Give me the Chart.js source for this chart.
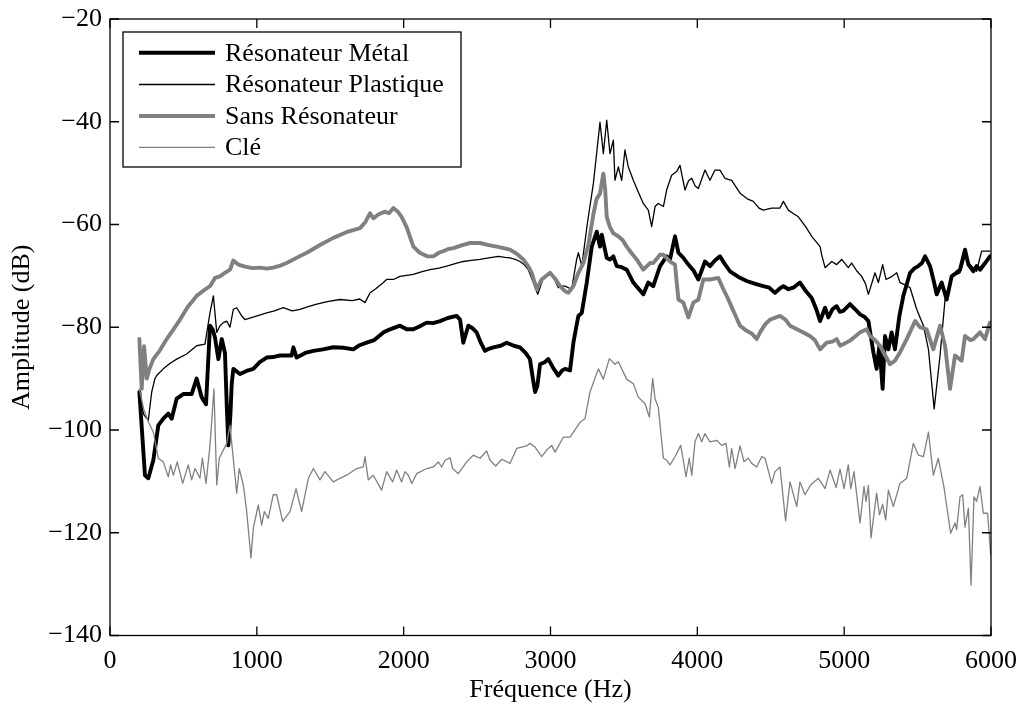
<!DOCTYPE html>
<html>
<head>
<meta charset="utf-8">
<script src="https://cdn.jsdelivr.net/npm/chart.js@4/dist/chart.umd.min.js"></script>
<style>
html,body{margin:0;padding:0;background:#fff;}
canvas{display:block;}
</style>
</head>
<body>
<canvas id="c" width="1024" height="706"></canvas>
<script>
// ---- Data ----
const seriesLabels = ['Résonateur Métal', 'Résonateur Plastique', 'Sans Résonateur', 'Clé'];

const freqMetal = [200,238,261,295,329,363,397,420,454,499,556,590,624,654,681,700,715,738,761,783,795,806,820,829,840,885,930,976,1020,1067,1110,1158,1237,1249,1271,1330,1385,1450,1521,1590,1657,1700,1748,1800,1862,1907,1975,2020,2066,2110,2157,2200,2248,2300,2361,2384,2406,2440,2470,2497,2525,2554,2580,2611,2660,2702,2750,2792,2830,2860,2880,2895,2910,2929,2960,2985,3020,3053,3080,3099,3133,3156,3175,3190,3213,3247,3281,3315,3337,3349,3383,3405,3428,3451,3485,3519,3564,3600,3632,3666,3700,3746,3791,3814,3848,3871,3905,3939,3975,4007,4052,4086,4120,4154,4190,4222,4280,4336,4390,4449,4490,4529,4560,4586,4620,4654,4699,4740,4779,4810,4836,4870,4892,4920,4949,4970,4994,5040,5075,5108,5140,5165,5199,5221,5240,5262,5278,5301,5323,5346,5375,5403,5449,5480,5505,5530,5551,5585,5610,5630,5664,5698,5732,5760,5789,5823,5846,5880,5902,5925,5960,5993];
const valMetal = [-92.6,-108.8,-109.4,-105.9,-99.1,-97.8,-96.8,-97.8,-93.9,-93,-93,-90,-93.6,-95,-79.7,-80.5,-82,-86.2,-82.3,-85,-95,-103,-97,-91,-88.1,-89.1,-88.5,-88.1,-86.8,-85.9,-85.8,-85.5,-85.5,-83.9,-85.9,-85,-84.6,-84.3,-83.9,-84,-84.3,-83.5,-83,-82.5,-81,-80.4,-79.7,-80.4,-80.4,-79.8,-79.1,-79.2,-78.8,-78.2,-77.8,-78.5,-83,-79.7,-80.2,-81,-83,-84.6,-84.2,-83.9,-83.6,-83,-83.6,-83.9,-85,-86.2,-90,-92.6,-91.5,-87.2,-86.8,-86.2,-88,-89.4,-88.4,-88.1,-88.4,-83,-80,-77.8,-77.2,-71.3,-64.3,-61.4,-64.3,-62,-66.5,-66.8,-66.2,-68.1,-68.3,-68.8,-71.3,-72.5,-73.6,-71.3,-72,-68.1,-66.2,-66.8,-62.3,-65.5,-66.5,-67.8,-69,-70.7,-67.2,-68.1,-67,-66.2,-67.8,-69.1,-70.2,-71,-71.5,-72,-72.3,-73.3,-72.5,-72,-72.6,-72.3,-71.3,-73,-74.3,-76.5,-78.8,-76.2,-78.1,-76.5,-75.9,-77,-76.8,-75.5,-76.5,-77.5,-78,-78.8,-84.9,-88.1,-83.6,-92,-81.7,-84.3,-81,-84.3,-78,-73.9,-69.4,-68.5,-68.1,-67.5,-66.2,-68.1,-71,-73.6,-71.3,-74.6,-70.1,-69.5,-68.8,-64.9,-67.8,-69.1,-68.1,-68.8,-67.5,-66.2];

const freqPlast = [200,230,261,284,306,318,363,410,454,522,590,647,665,681,704,727,749,772,795,817,840,863,897,919,980,1067,1120,1180,1240,1294,1350,1408,1480,1566,1650,1700,1737,1771,1810,1862,1884,1930,1975,2066,2120,2179,2240,2293,2350,2406,2460,2520,2580,2645,2690,2724,2760,2792,2820,2849,2883,2913,2951,2997,3025,3053,3080,3099,3144,3178,3190,3213,3250,3292,3337,3360,3383,3405,3428,3439,3462,3485,3507,3530,3564,3600,3632,3666,3689,3712,3734,3769,3791,3825,3859,3882,3916,3940,3962,3985,4007,4052,4086,4120,4154,4188,4234,4291,4340,4381,4420,4449,4506,4563,4586,4620,4650,4688,4740,4779,4836,4847,4870,4915,4949,4983,5028,5051,5085,5119,5145,5165,5210,5233,5262,5285,5320,5358,5380,5420,5449,5494,5540,5574,5613,5653,5687,5732,5789,5823,5857,5902,5936,5993];
const valPlast = [-93,-97,-98.1,-92.6,-90,-89.4,-88.1,-87,-86.2,-85.2,-83.6,-83.3,-80,-77.2,-73.9,-81,-79.7,-79.1,-78.8,-80,-76.5,-76.2,-77.8,-78.5,-78,-77.2,-76.8,-76.2,-76.8,-76.5,-76,-75.5,-75,-74.6,-74.8,-74.5,-75.2,-73.3,-72.5,-71.3,-70.7,-70.7,-70.1,-69.7,-69.2,-68.8,-68.5,-68.1,-67.6,-67.2,-67,-66.8,-66.5,-66.2,-66.4,-66.5,-66.8,-67.2,-67.8,-68.8,-71.3,-73.6,-70.4,-69.4,-70.5,-72.3,-72,-72,-72.6,-66.8,-65.5,-68.1,-60,-52,-40.1,-46.2,-39.7,-46.2,-43.6,-51.4,-48.8,-51.4,-45.5,-48.8,-51.4,-53.8,-55.9,-57.2,-60.4,-56.5,-55.9,-56.5,-53.3,-50.4,-49.7,-48.5,-53.3,-51.5,-51,-52.5,-53,-49.4,-51.4,-49.4,-49.4,-51,-51.4,-53.9,-55,-55.5,-56.8,-57.2,-56.8,-56.8,-55.5,-57.2,-57.8,-58.5,-60.5,-62.3,-64.3,-65.9,-68.4,-67.2,-67.8,-66.8,-68.4,-67.5,-69,-70.1,-71.5,-73.6,-69.4,-71.3,-67.8,-70.7,-70.2,-69.4,-71.3,-71.8,-72.3,-76.5,-79.7,-84.3,-95.9,-85.5,-74.6,-70.1,-69.4,-66.2,-67.8,-69.1,-65.2,-65.2];

const freqSans = [200,216,232,250,265,295,340,386,430,477,530,590,640,681,715,749,783,817,840,874,920,970,1022,1070,1112,1160,1203,1270,1340,1430,1521,1610,1703,1740,1771,1793,1830,1873,1900,1930,1960,1986,2020,2066,2110,2160,2202,2240,2270,2300,2338,2400,2452,2520,2580,2634,2680,2724,2770,2815,2850,2872,2906,2940,2997,3030,3065,3100,3122,3156,3190,3224,3258,3292,3314,3337,3360,3372,3383,3405,3428,3462,3490,3519,3550,3587,3610,3632,3678,3700,3746,3769,3814,3848,3871,3905,3939,3973,4007,4041,4086,4143,4177,4210,4245,4291,4336,4370,4404,4427,4460,4495,4563,4600,4631,4699,4767,4800,4836,4881,4920,4949,4972,5000,5040,5075,5108,5154,5176,5210,5244,5280,5312,5346,5380,5426,5483,5517,5562,5607,5653,5687,5721,5755,5800,5823,5860,5880,5925,5959,5993];
const valSans = [-82.3,-92,-83.7,-90,-88.4,-86.2,-84.5,-82.3,-80.5,-78.5,-76,-73.9,-72.8,-72,-70.4,-70.1,-69.4,-68.8,-67,-67.8,-68.2,-68.5,-68.4,-68.6,-68.4,-68,-67.5,-66.5,-65.5,-64,-62.6,-61.5,-60.7,-59.5,-57.8,-58.8,-58,-57.5,-57.8,-56.8,-57.5,-58.5,-60.5,-64.3,-65.5,-66.2,-66.2,-65.5,-65.2,-64.8,-64.6,-64,-63.6,-63.6,-64,-64.3,-64.6,-64.9,-65.7,-66.8,-68.2,-69.4,-72.6,-70.7,-69.4,-70.5,-72,-73,-73.3,-72,-69.4,-67.5,-64,-58,-55,-54,-50.1,-53,-58.5,-60.5,-61.7,-62.3,-63,-64.3,-65.5,-66.8,-67.8,-68.8,-67.5,-67.5,-65.9,-65.9,-67.2,-67.8,-74.6,-75.2,-78.1,-75.2,-74.6,-70.7,-70.7,-70.4,-72.6,-74.5,-76.8,-79.7,-80.7,-81.2,-82.3,-81,-79.5,-78.5,-77.8,-78.5,-79.7,-80.7,-81.7,-82.5,-84.3,-83,-82.8,-82.3,-83.6,-83.2,-82.6,-81.8,-81,-80.4,-81.7,-82.5,-83.6,-85.5,-87.2,-86.5,-84.9,-82.3,-78.8,-80,-80.4,-84.3,-79.7,-83.6,-92,-85.5,-86.5,-81.7,-82.5,-82.3,-81,-82.3,-79.1];

const freqCle = [200,230,261,295,329,363,397,413,431,458,495,533,556,579,613,629,654,681,708,727,744,795,817,863,880,908,931,960,976,1010,1033,1051,1078,1112,1135,1176,1226,1267,1305,1351,1385,1430,1464,1521,1566,1612,1680,1725,1737,1759,1793,1850,1884,1925,1952,1986,2009,2032,2055,2089,2157,2202,2236,2259,2282,2316,2334,2372,2429,2474,2520,2565,2588,2627,2668,2724,2770,2838,2860,2894,2940,2974,3008,3031,3087,3133,3201,3235,3269,3326,3360,3401,3439,3462,3519,3564,3598,3644,3673,3696,3712,3734,3769,3791,3814,3848,3887,3923,3945,3962,3984,4007,4030,4052,4086,4132,4166,4195,4218,4234,4257,4291,4318,4347,4370,4404,4438,4461,4506,4529,4563,4601,4631,4677,4699,4733,4771,4824,4870,4904,4945,4972,4999,5028,5045,5067,5108,5135,5149,5165,5183,5221,5240,5262,5283,5301,5335,5380,5426,5471,5505,5540,5574,5607,5641,5679,5725,5755,5766,5789,5807,5823,5846,5864,5884,5902,5925,5948,5977,5998];
const valCle = [-92,-96,-98.4,-100.4,-105.5,-106.2,-109.1,-106.8,-108.8,-106.2,-110.4,-106.8,-109.7,-107.5,-109.4,-105.5,-110.4,-103,-92,-110.7,-105.5,-102.6,-99.1,-112.3,-107.5,-110.7,-115.9,-124.9,-119.1,-114.6,-118.5,-115.9,-117.2,-112.6,-112.6,-117.8,-115.9,-111.4,-115.9,-109.4,-107.5,-109.7,-108.1,-110.1,-109.4,-108.8,-107.5,-107.2,-105.2,-109.7,-108.8,-111.7,-108.1,-110.1,-107.8,-110.1,-108.1,-108.8,-110.4,-108.5,-107.5,-107.2,-106.2,-107.2,-105.9,-105.4,-107.5,-108.5,-106.2,-104.9,-105.5,-104.1,-105.9,-107,-105.7,-106.5,-103.6,-103.1,-102.6,-103.3,-105.2,-103.9,-103,-104.3,-101.4,-101.4,-98.5,-97.8,-92.6,-88.1,-90.1,-86.1,-87.2,-86.7,-90.1,-91,-93.6,-94.9,-97.5,-90,-93.9,-95.6,-105.5,-105.9,-106.8,-105.2,-103,-109.1,-105.5,-108.8,-102.3,-100.7,-102.3,-100.7,-102.3,-102,-103,-102.6,-107.2,-103.6,-107.5,-103.1,-106.2,-105.5,-106.5,-107.2,-105.2,-105.5,-110.4,-108.1,-107.2,-117.7,-110.1,-114.9,-110.1,-112.6,-110.7,-109.4,-111.4,-107.8,-111.2,-107.6,-111.4,-106.8,-111.4,-108.1,-118.1,-111,-113.9,-110.8,-121,-112.3,-116.5,-114.5,-117.5,-111.7,-114.9,-110.4,-109.4,-102.6,-104.9,-105.2,-100.4,-108.8,-105.5,-111,-120.1,-118.1,-119.4,-113,-112.6,-118.9,-115.2,-130.2,-113,-113.9,-111,-116.2,-116.2,-124.3];

const xTickStep = 1000, xMin = 0, xMax = 6000;
const yTickStep = 20, yMin = -140, yMax = -20;
const xTitle = 'Fréquence (Hz)';
const yTitle = 'Amplitude (dB)';

// ---- Build ----
const pts = (xs, ys) => xs.map((x, i) => ({x: x, y: ys[i]}));
const GRAY = 'rgb(128,128,128)';
const FONT = "'Liberation Serif', 'Times New Roman', serif";

const datasets = [
  {label: seriesLabels[0], data: pts(freqMetal, valMetal), borderColor: '#000', borderWidth: 3.9, order: 4},
  {label: seriesLabels[1], data: pts(freqPlast, valPlast), borderColor: '#000', borderWidth: 1.3, order: 3},
  {label: seriesLabels[2], data: pts(freqSans, valSans), borderColor: GRAY, borderWidth: 3.9, order: 2},
  {label: seriesLabels[3], data: pts(freqCle, valCle), borderColor: GRAY, borderWidth: 1.3, order: 1}
].map(d => Object.assign(d, {pointRadius: 0, tension: 0, fill: false, borderJoinStyle: 'round', borderCapStyle: 'round'}));

const framePlugin = {
  id: 'frame',
  afterDraw(chart) {
    const {ctx, chartArea: {left, right, top, bottom}, scales: {x, y}} = chart;
    ctx.save();
    ctx.strokeStyle = '#000';
    ctx.lineWidth = 1.3;
    ctx.strokeRect(left, top, right - left, bottom - top);
    const L = 9;
    ctx.beginPath();
    x.ticks.forEach(t => {
      const px = x.getPixelForValue(t.value);
      ctx.moveTo(px, bottom); ctx.lineTo(px, bottom - L);
      ctx.moveTo(px, top); ctx.lineTo(px, top + L);
    });
    y.ticks.forEach(t => {
      const py = y.getPixelForValue(t.value);
      ctx.moveTo(left, py); ctx.lineTo(left + L, py);
      ctx.moveTo(right, py); ctx.lineTo(right - L, py);
    });
    ctx.stroke();

    // legend box
    const bx = 123, by = 32, bw = 338, bh = 135;
    ctx.fillStyle = '#fff';
    ctx.fillRect(bx, by, bw, bh);
    ctx.lineWidth = 1.3;
    ctx.strokeRect(bx, by, bw, bh);
    const rows = [52.7, 84.5, 116, 147.3];
    ctx.font = '26px ' + FONT;
    ctx.textBaseline = 'middle';
    ctx.textAlign = 'left';
    chart.data.datasets.forEach((d, i) => {
      ctx.beginPath();
      ctx.strokeStyle = d.borderColor;
      ctx.lineWidth = d.borderWidth;
      ctx.moveTo(139, rows[i]); ctx.lineTo(215, rows[i]);
      ctx.stroke();
      ctx.fillStyle = '#000';
      ctx.fillText(d.label, 225, rows[i] + 1);
    });
    ctx.restore();
  }
};

const fmt = v => (v < 0 ? '\u2212' + Math.abs(v) : String(v));

new Chart(document.getElementById('c'), {
  type: 'line',
  data: {datasets},
  options: {
    responsive: false,
    animation: false,
    layout: {padding: {top: 19, right: 33, left: 0, bottom: 0}},
    plugins: {legend: {display: false}, tooltip: {enabled: false}},
    scales: {
      x: {
        type: 'linear', min: xMin, max: xMax,
        ticks: {stepSize: xTickStep, color: '#000', font: {family: FONT, size: 26}, padding: 10, maxRotation: 0, callback: fmt},
        grid: {display: false, drawTicks: false},
        border: {display: false},
        title: {display: true, text: xTitle, color: '#000', font: {family: FONT, size: 26}, padding: {top: 0, bottom: 0}},
        afterFit: s => { s.height = 70.5; s.paddingLeft = 0; s.paddingRight = 0; }
      },
      y: {
        type: 'linear', min: yMin, max: yMax,
        ticks: {stepSize: yTickStep, color: '#000', font: {family: FONT, size: 26}, padding: 8, callback: fmt},
        grid: {display: false, drawTicks: false},
        border: {display: false},
        title: {display: true, text: yTitle, color: '#000', font: {family: FONT, size: 26}, padding: {top: 7, bottom: 0}},
        afterFit: s => { s.width = 110; s.paddingTop = 0; s.paddingBottom = 0; }
      }
    }
  },
  plugins: [framePlugin]
});
</script>
</body>
</html>
